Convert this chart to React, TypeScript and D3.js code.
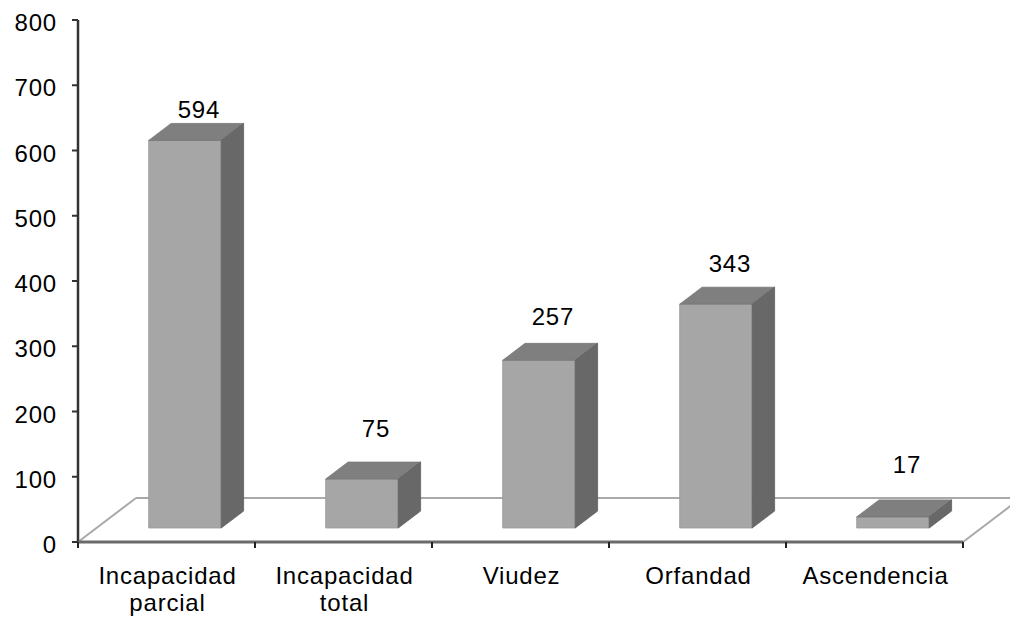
import React from "react";
import * as d3 from "d3";

const categories = ["Incapacidad parcial", "Incapacidad total", "Viudez", "Orfandad", "Ascendencia"];
const categoryLines = [["Incapacidad", "parcial"], ["Incapacidad", "total"], ["Viudez"], ["Orfandad"], ["Ascendencia"]];
const values = [594, 75, 257, 343, 17];
const yTicks = [0, 100, 200, 300, 400, 500, 600, 700, 800];

const W = 1010;
const H = 617;
const DEPTH = { dx: 58, dy: -44 }; // full floor depth vector
const BAR_FRONT = 0.318; // depth fraction of bar front face
const BAR_DEPTH = 0.386; // depth fraction of bar thickness
const BAR_WIDTH_FRAC = 0.41;
const FONT = "'Liberation Sans', Arial, sans-serif";

export default function App() {
  const x = d3.scaleBand<string>().domain(categories).range([78, 963]).paddingInner(0).paddingOuter(0);
  const y = d3.scaleLinear().domain([0, 800]).range([542, 20]);
  const labelY = d3.scaleLinear().domain([0, 800]).range([483, -9]);

  const bw = x.bandwidth();
  const barW = bw * BAR_WIDTH_FRAC;
  const fdx = BAR_FRONT * DEPTH.dx;
  const fdy = BAR_FRONT * DEPTH.dy;
  const ddx = BAR_DEPTH * DEPTH.dx;
  const ddy = BAR_DEPTH * DEPTH.dy;

  const [x0, x1] = x.range();
  const y0 = y(0);
  const floorBack = y0 + DEPTH.dy;

  const textStyle: React.CSSProperties = { fontFamily: FONT, fontSize: 24, letterSpacing: 0.8, fill: "#000" };

  return (
    <svg width={W} height={H} style={{ position: "absolute", left: 0, top: 0, background: "#fff" }}>
      {/* floor */}
      <g fill="none" stroke="#a9a9a9" strokeWidth={2}>
        <line x1={x0} y1={y0} x2={x0 + DEPTH.dx} y2={floorBack} />
        <line x1={x0 + DEPTH.dx} y1={floorBack} x2={x1 + DEPTH.dx} y2={floorBack} />
        <line x1={x1} y1={y0} x2={x1 + DEPTH.dx} y2={floorBack} />
      </g>

      {/* bars */}
      {categories.map((c, i) => {
        const v = values[i];
        const left = (x(c) as number) + (bw - barW) / 2 + fdx;
        const right = left + barW;
        const base = y(0) + fdy;
        const top = y(v) + fdy;
        const front = `M${left},${base}L${right},${base}L${right},${top}L${left},${top}Z`;
        const topFace = `M${left},${top}L${left + ddx},${top + ddy}L${right + ddx},${top + ddy}L${right},${top}Z`;
        const side = `M${right},${base}L${right + ddx},${base + ddy}L${right + ddx},${top + ddy}L${right},${top}Z`;
        return (
          <g key={c}>
            <path d={front} fill="#a6a6a6" stroke="#9a9a9a" strokeWidth={0.8} />
            <path d={topFace} fill="#7f7f7f" stroke="#777" strokeWidth={0.8} />
            <path d={side} fill="#686868" stroke="#606060" strokeWidth={0.8} />
            <text x={(left + right) / 2 + 14} y={labelY(v)} textAnchor="middle" style={textStyle}>
              {v}
            </text>
          </g>
        );
      })}

      {/* y axis */}
      <line x1={78} y1={y(800)} x2={78} y2={y0} stroke="#333" strokeWidth={2.5} />
      {yTicks.map((t) => (
        <g key={t}>
          <line x1={72} y1={y(t)} x2={78} y2={y(t)} stroke="#333" strokeWidth={2} />
          <text x={57} y={y(t) + 11} textAnchor="end" style={textStyle}>
            {t}
          </text>
        </g>
      ))}

      {/* x axis */}
      <line x1={x0} y1={y0} x2={x1} y2={y0} stroke="#6a6a6a" strokeWidth={3} />
      {[...categories.map((c) => x(c) as number), x1].map((p, i) => (
        <line key={i} x1={p} y1={y0} x2={p} y2={y0 + 6} stroke="#222" strokeWidth={2} />
      ))}
      {categories.map((c, i) => (
        <text key={c} textAnchor="middle" style={textStyle}>
          {categoryLines[i].map((ln, j) => (
            <tspan key={j} x={(x(c) as number) + bw / 2 + 1} y={584 + j * 27}>
              {ln}
            </tspan>
          ))}
        </text>
      ))}
    </svg>
  );
}
